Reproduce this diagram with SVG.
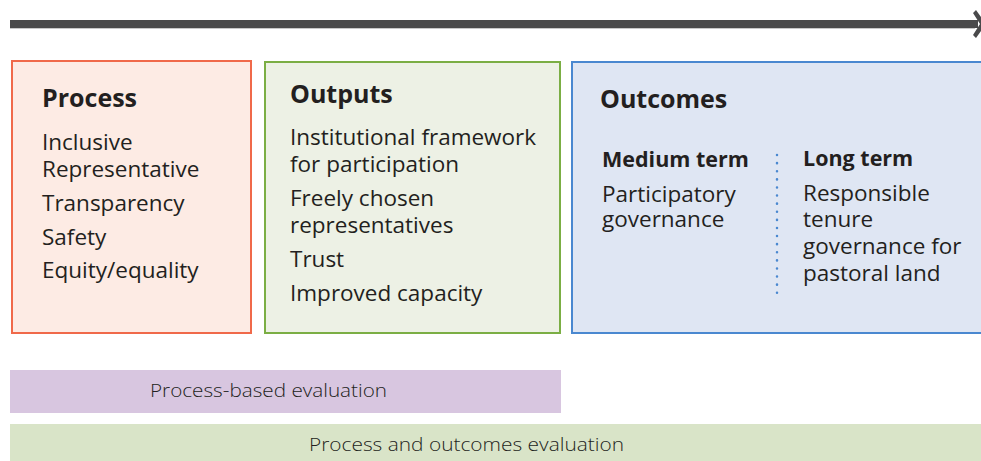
<svg xmlns="http://www.w3.org/2000/svg" width="981" height="461" viewBox="0 0 981 461">
<style>
.t{font-family:"Open Sans","Noto Sans","DejaVu Sans",sans-serif;fill:#231f20;font-size:22.5px}
.h{font-family:"Open Sans","Noto Sans","DejaVu Sans",sans-serif;fill:#231f20;font-size:25px;font-weight:bold}
.h2{font-family:"Open Sans","Noto Sans","DejaVu Sans",sans-serif;fill:#231f20;font-size:21.5px;font-weight:bold}
.e{font-family:"Open Sans","Noto Sans","DejaVu Sans",sans-serif;fill:#231f20;font-size:19px;font-weight:300}
</style>
<rect width="981" height="461" fill="#ffffff"/>
<g id="connectors">
  <line x1="10" y1="24" x2="978" y2="24" stroke="#4a4a4b" stroke-width="8"/>
  <line x1="10" y1="28.5" x2="975" y2="28.5" stroke="#c8c8c8" stroke-width="1"/>
  <polygon points="973,13 976,10 986,24 976,38 973,35 980,24" fill="#4a4a4b"/>
</g>
<g id="process">
  <rect x="12" y="61" width="239" height="272" fill="#fdebe4" stroke="#f0694a" stroke-width="2"/>
  <text class="h" x="42" y="107">Process</text>
  <text class="t" x="42" y="150">Inclusive</text>
  <text class="t" x="42" y="177">Representative</text>
  <text class="t" x="42" y="211">Transparency</text>
  <text class="t" x="42" y="245">Safety</text>
  <text class="t" x="42" y="278">Equity/equality</text>
</g>
<g id="outputs">
  <rect x="265" y="62" width="295" height="271" fill="#edf1e5" stroke="#7bae44" stroke-width="2"/>
  <text class="h" x="290" y="103">Outputs</text>
  <text class="t" x="290" y="145">Institutional framework</text>
  <text class="t" x="290" y="172">for participation</text>
  <text class="t" x="290" y="206">Freely chosen</text>
  <text class="t" x="290" y="233">representatives</text>
  <text class="t" x="290" y="267">Trust</text>
  <text class="t" x="290" y="301">Improved capacity</text>
</g>
<g id="outcomes">
  <rect x="572" y="62" width="420" height="271" fill="#dfe6f3" stroke="#4a88d0" stroke-width="2"/>
  <text class="h" x="600" y="108">Outcomes</text>
  <text class="h2" x="602" y="167">Medium term</text>
  <text class="t" x="602" y="202">Participatory</text>
  <text class="t" x="602" y="227">governance</text>
  <line x1="777" y1="155" x2="777" y2="300" stroke="#4a88d0" stroke-width="2.5" stroke-dasharray="0.1 8" stroke-linecap="round"/>
  <text class="h2" x="803" y="166">Long term</text>
  <text class="t" x="803" y="201">Responsible</text>
  <text class="t" x="803" y="227">tenure</text>
  <text class="t" x="803" y="254">governance for</text>
  <text class="t" x="803" y="281">pastoral land</text>
</g>
<g id="process-evaluation">
  <rect x="10" y="370" width="551" height="43" fill="#d8c6e0"/>
  <text class="e" x="150" y="397" textLength="237" lengthAdjust="spacingAndGlyphs">Process-based evaluation</text>
</g>
<g id="outcomes-evaluation">
  <rect x="10" y="424" width="971" height="37" fill="#d9e4c8"/>
  <text class="e" x="309" y="451" textLength="315" lengthAdjust="spacingAndGlyphs">Process and outcomes evaluation</text>
</g>
</svg>
